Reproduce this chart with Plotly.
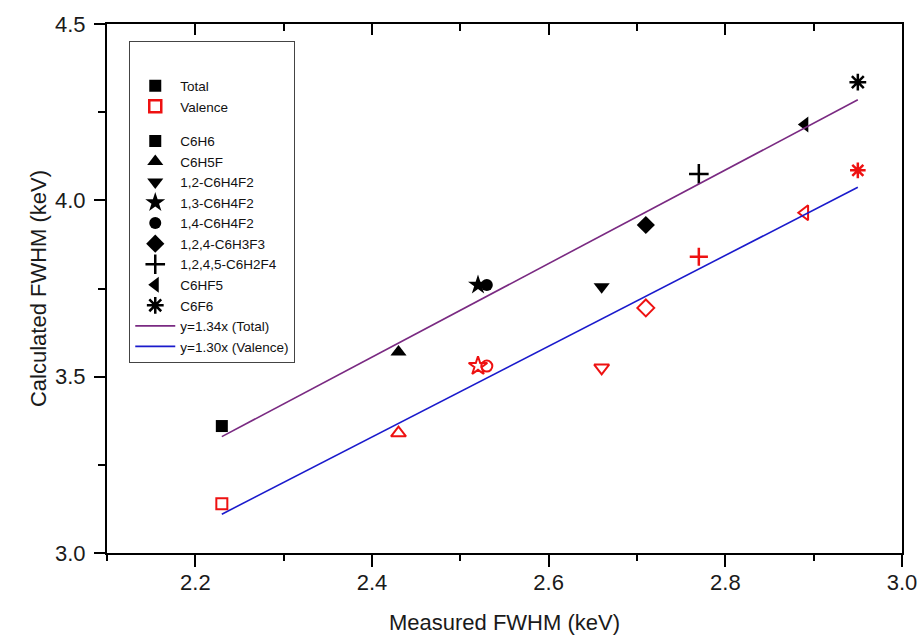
import plotly.graph_objects as go

# ---- data ----
compounds = ["C6H6", "C6H5F", "1,2-C6H4F2", "1,3-C6H4F2", "1,4-C6H4F2",
             "1,2,4-C6H3F3", "1,2,4,5-C6H2F4", "C6HF5", "C6F6"]
measured = [2.23, 2.43, 2.66, 2.52, 2.53, 2.71, 2.77, 2.89, 2.95]
total_calc = [3.36, 3.57, 3.755, 3.76, 3.76, 3.93, 4.075, 4.215, 4.335]
valence_calc = [3.14, 3.34, 3.525, 3.53, 3.53, 3.695, 3.84, 3.965, 4.085]
symbols = ["square", "triangle-up", "triangle-down", "star", "circle",
           "diamond", "cross-thin", "triangle-left", "asterisk"]
open_symbols = ["square-open", "triangle-up-open", "triangle-down-open", "star-open",
                "circle-open", "diamond-open", "cross-thin", "triangle-left-open", "asterisk"]
sizes = [12, 14, 14, 15, 12, 14, 14, 14, 14]

fit_x = [2.23, 2.95]
fit_total_y = [3.33, 4.285]
fit_valence_y = [3.11, 4.037]
fit_names = ["y=1.34x (Total)", "y=1.30x (Valence)"]

xticks = [2.2, 2.4, 2.6, 2.8, 3.0]
yticks = [3.0, 3.5, 4.0, 4.5]

BLACK = "#000000"
RED = "#ee1111"
TXT = "#1a1a1a"
FONT = "Liberation Sans, Arial, sans-serif"

fig = go.Figure()

# legend-only keys
fig.add_trace(go.Scatter(x=[None], y=[None], mode="markers", name="Total",
                         legendgroup="a",
                         marker=dict(symbol="square", size=12, color=BLACK)))
fig.add_trace(go.Scatter(x=[None], y=[None], mode="markers", name="Valence",
                         legendgroup="a",
                         marker=dict(symbol="square-open", size=12, color=RED,
                                     line=dict(color=RED, width=2.5))))

for i, name in enumerate(compounds):
    line_sym = symbols[i] in ("cross-thin", "asterisk")
    fig.add_trace(go.Scatter(
        x=[measured[i]], y=[total_calc[i]], mode="markers", name=name,
        legendgroup="b",
        marker=dict(symbol=symbols[i], size=sizes[i], color=BLACK,
                    line=dict(color=BLACK, width=2.5 if line_sym else 0))))
for i, name in enumerate(compounds):
    fig.add_trace(go.Scatter(
        x=[measured[i]], y=[valence_calc[i]], mode="markers", name=name + " (valence)",
        showlegend=False,
        marker=dict(symbol=open_symbols[i], size=sizes[i] - 1, color=RED,
                    line=dict(color=RED, width=2.5 if open_symbols[i] in ("cross-thin", "asterisk") else 2))))

fig.add_trace(go.Scatter(x=fit_x, y=fit_total_y, mode="lines", name=fit_names[0],
                         legendgroup="b", xaxis="x2",
                         line=dict(color="#7a2a82", width=1.6)))
fig.add_trace(go.Scatter(x=fit_x, y=fit_valence_y, mode="lines", name=fit_names[1],
                         legendgroup="b", xaxis="x2",
                         line=dict(color="#1a1acc", width=1.6)))

fig.update_layout(
    width=919, height=635,
    margin=dict(l=107, r=17, t=24, b=82),
    paper_bgcolor="white", plot_bgcolor="white",
    font=dict(family=FONT, color=TXT),
    showlegend=True,
    legend=dict(
        x=0.028, y=0.968, xanchor="left", yanchor="top",
        bgcolor="white", bordercolor="#444444", borderwidth=1,
        font=dict(family=FONT, size=13.5, color="#111111"),
        traceorder="grouped", tracegroupgap=14,
        title=dict(text=" ", font=dict(size=22)),
        itemwidth=40,
    ),
    xaxis=dict(
        range=[2.1, 3.0], tickvals=xticks, tickformat=".1f", automargin=False,
        ticks="outside", ticklen=12, tickwidth=2, tickcolor=BLACK,
        minor=dict(dtick=0.1, tick0=2.1, ticks="outside", ticklen=6, tickwidth=2, tickcolor=BLACK),
        showline=True, linewidth=2, linecolor=BLACK, showgrid=False, zeroline=False,
        ticklabelstandoff=-3, ticklabeloverflow="allow",
        tickfont=dict(size=22, family=FONT, color=TXT),
        title=dict(text="Measured FWHM (keV)", font=dict(size=22, family=FONT, color=TXT),
                   standoff=21),
    ),
    xaxis2=dict(
        range=[2.1, 3.0], overlaying="x", side="top", anchor="y", automargin=False,
        tickvals=xticks, showticklabels=False,
        ticks="inside", ticklen=11, tickwidth=2, tickcolor=BLACK,
        minor=dict(dtick=0.1, tick0=2.1, ticks="inside", ticklen=7, tickwidth=2, tickcolor=BLACK),
        showline=True, linewidth=2, linecolor=BLACK, showgrid=False, zeroline=False,
    ),
    yaxis=dict(
        range=[3.0, 4.5], tickvals=yticks, tickformat=".1f", automargin=False,
        ticks="outside", ticklen=11, tickwidth=2, tickcolor=BLACK,
        minor=dict(dtick=0.25, tick0=3.0, ticks="outside", ticklen=7, tickwidth=2, tickcolor=BLACK),
        showline=True, linewidth=2, linecolor=BLACK, mirror=True,
        showgrid=False, zeroline=False, ticklabelstandoff=4, ticklabeloverflow="allow",
        tickfont=dict(size=22, family=FONT, color=TXT),
        title=dict(text="Calculated FWHM (keV)", font=dict(size=22, family=FONT, color=TXT),
                   standoff=2),
    ),
)

# remove the default page margin so the 919x635 figure fills the window exactly
fig.write_html("out.html",
               config={"displayModeBar": False},
               post_script="document.body.style.margin='0';document.body.style.overflow='hidden';")
